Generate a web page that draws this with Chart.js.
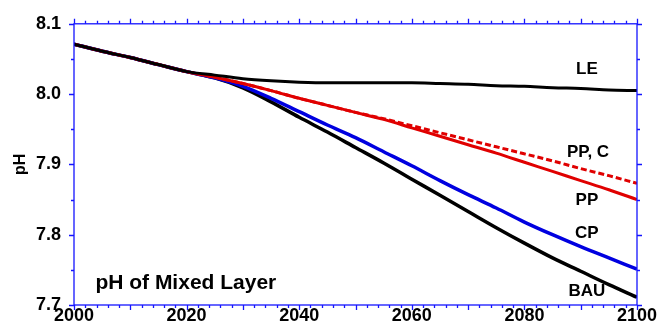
<!DOCTYPE html>
<html>
<head>
<meta charset="utf-8">
<script src="https://cdn.jsdelivr.net/npm/chart.js@4/dist/chart.umd.min.js"></script>
<style>
  html, body { margin: 0; padding: 0; background: #fff; }
  #wrap { width: 660px; height: 332px; }
</style>
</head>
<body>
<div id="wrap"><canvas id="phChart" width="660" height="332"></canvas></div>
<script>
// years sampled every 5 years
const years = [2000, 2005, 2010, 2015, 2020, 2025, 2030, 2035, 2040, 2045, 2050,
               2055, 2060, 2065, 2070, 2075, 2080, 2085, 2090, 2095, 2100];

const leValues  = [8.071, 8.061, 8.052, 8.042, 8.032, 8.027, 8.022, 8.019, 8.017, 8.016, 8.016,
                   8.016, 8.016, 8.015, 8.014, 8.012, 8.011, 8.009, 8.008, 8.006, 8.005];
const ppcValues = [8.071, 8.061, 8.052, 8.042, 8.032, 8.024, 8.015, 8.005, 7.994, 7.984, 7.974,
                   7.965, 7.955, 7.945, 7.935, 7.925, 7.915, 7.905, 7.894, 7.884, 7.873];
const ppValues  = [8.071, 8.061, 8.052, 8.042, 8.032, 8.024, 8.015, 8.005, 7.994, 7.984, 7.974,
                   7.964, 7.952, 7.940, 7.928, 7.916, 7.903, 7.890, 7.877, 7.864, 7.850];
const cpValues  = [8.071, 8.061, 8.052, 8.042, 8.032, 8.023, 8.011, 7.994, 7.975, 7.956, 7.938,
                   7.918, 7.898, 7.877, 7.857, 7.838, 7.818, 7.800, 7.783, 7.767, 7.751];
const bauValues = [8.071, 8.061, 8.052, 8.042, 8.032, 8.023, 8.009, 7.989, 7.967, 7.946, 7.924,
                   7.902, 7.879, 7.856, 7.833, 7.810, 7.788, 7.767, 7.748, 7.729, 7.711];

const seriesNames = ['LE', 'PP, C', 'PP', 'CP', 'BAU'];
const xTickLabels = [2000, 2020, 2040, 2060, 2080, 2100];
const yTickLabels = [7.7, 7.8, 7.9, 8.0, 8.1];

const FONT = '"Liberation Sans", Arial, Helvetica, sans-serif';
const AXIS_BLUE = '#1414ff';

function toPoints(vals) {
    return years.map((y, i) => ({ x: y, y: vals[i] }));
}

// frame + outward tick marks like the original plot
const frameTicks = {
    id: 'frameTicks',
    afterDatasetsDraw(chart) {
        const { ctx, chartArea: a, scales } = chart;
        const xs = scales.x, ys = scales.y;
        ctx.save();
        ctx.strokeStyle = AXIS_BLUE;
        ctx.lineWidth = 1.3;
        ctx.strokeRect(a.left, a.top, a.right - a.left, a.bottom - a.top);
        ctx.beginPath();
        for (let v = 2000; v <= 2100; v += 2) {
            const px = Math.round(xs.getPixelForValue(v)) + 0.5;
            const len = v % 10 === 0 ? 5 : 3;
            ctx.moveTo(px, a.bottom); ctx.lineTo(px, a.bottom + len);
            ctx.moveTo(px, a.top); ctx.lineTo(px, a.top - len);
        }
        for (let k = 0; k <= 8; k++) {
            const v = 7.7 + k * 0.05;
            const py = Math.round(ys.getPixelForValue(v)) + 0.5;
            const len = k % 2 === 0 ? 5 : 3;
            ctx.moveTo(a.left, py); ctx.lineTo(a.left - len, py);
            ctx.moveTo(a.right, py); ctx.lineTo(a.right + len, py);
        }
        ctx.stroke();
        ctx.restore();
    }
};

// curve names and panel title, placed in data units
const curveLabels = {
    id: 'curveLabels',
    afterDatasetsDraw(chart, args, opts) {
        const { ctx, scales } = chart;
        ctx.save();
        ctx.fillStyle = '#000';
        ctx.textBaseline = 'middle';
        ctx.textAlign = 'center';
        ctx.font = 'bold 17px ' + FONT;
        opts.items.forEach(it => {
            ctx.fillText(it.text, scales.x.getPixelForValue(it.x), scales.y.getPixelForValue(it.y));
        });
        ctx.textAlign = 'left';
        ctx.font = 'bold 21px ' + FONT;
        ctx.fillText(opts.title.text, scales.x.getPixelForValue(opts.title.x), scales.y.getPixelForValue(opts.title.y));
        ctx.restore();
    }
};

new Chart(document.getElementById('phChart'), {
    type: 'line',
    data: {
        datasets: [
            { label: seriesNames[0], data: toPoints(leValues), borderColor: '#000000', borderWidth: 3 },
            { label: seriesNames[1], data: toPoints(ppcValues), borderColor: '#e00000', borderWidth: 3, borderDash: [6, 3] },
            { label: seriesNames[2], data: toPoints(ppValues), borderColor: '#e00000', borderWidth: 3 },
            { label: seriesNames[3], data: toPoints(cpValues), borderColor: '#0000e0', borderWidth: 3.5 },
            { label: seriesNames[4], data: toPoints(bauValues), borderColor: '#000000', borderWidth: 3.5 }
        ]
    },
    options: {
        responsive: false,
        animation: false,
        devicePixelRatio: 1,
        layout: { padding: { left: 0, top: 23, right: 23, bottom: 0 } },
        elements: {
            point: { radius: 0 },
            line: { tension: 0.3, cubicInterpolationMode: 'monotone', fill: false }
        },
        plugins: {
            legend: { display: false },
            tooltip: { enabled: false },
            curveLabels: {
                items: [
                    { text: 'LE', x: 2091.1, y: 8.035 },
                    { text: 'PP, C', x: 2091.3, y: 7.917 },
                    { text: 'PP', x: 2091.1, y: 7.849 },
                    { text: 'CP', x: 2091.1, y: 7.802 },
                    { text: 'BAU', x: 2091.1, y: 7.719 }
                ],
                title: { text: 'pH of Mixed Layer', x: 2003.8, y: 7.731 }
            }
        },
        scales: {
            x: {
                type: 'linear',
                min: 2000,
                max: 2100,
                afterFit(scale) { scale.height = 27; },
                afterBuildTicks(scale) { scale.ticks = xTickLabels.map(v => ({ value: v })); },
                grid: { display: false, drawTicks: false },
                border: { display: false },
                ticks: {
                    maxRotation: 0,
                    padding: 0,
                    color: '#000',
                    font: { family: FONT, size: 18, weight: 'bold' },
                    callback: v => String(v)
                }
            },
            y: {
                min: 7.7,
                max: 8.1,
                afterFit(scale) { scale.width = 74; },
                afterBuildTicks(scale) { scale.ticks = yTickLabels.map(v => ({ value: v })); },
                grid: { display: false, drawTicks: false },
                border: { display: false },
                title: {
                    display: true,
                    text: 'pH',
                    color: '#000',
                    font: { family: FONT, size: 16, weight: 'bold' },
                    padding: { top: 11, bottom: 0 }
                },
                ticks: {
                    padding: 13,
                    color: '#000',
                    font: { family: FONT, size: 18, weight: 'bold' },
                    callback: v => v.toFixed(1)
                }
            }
        }
    },
    plugins: [frameTicks, curveLabels]
});
</script>
</body>
</html>
